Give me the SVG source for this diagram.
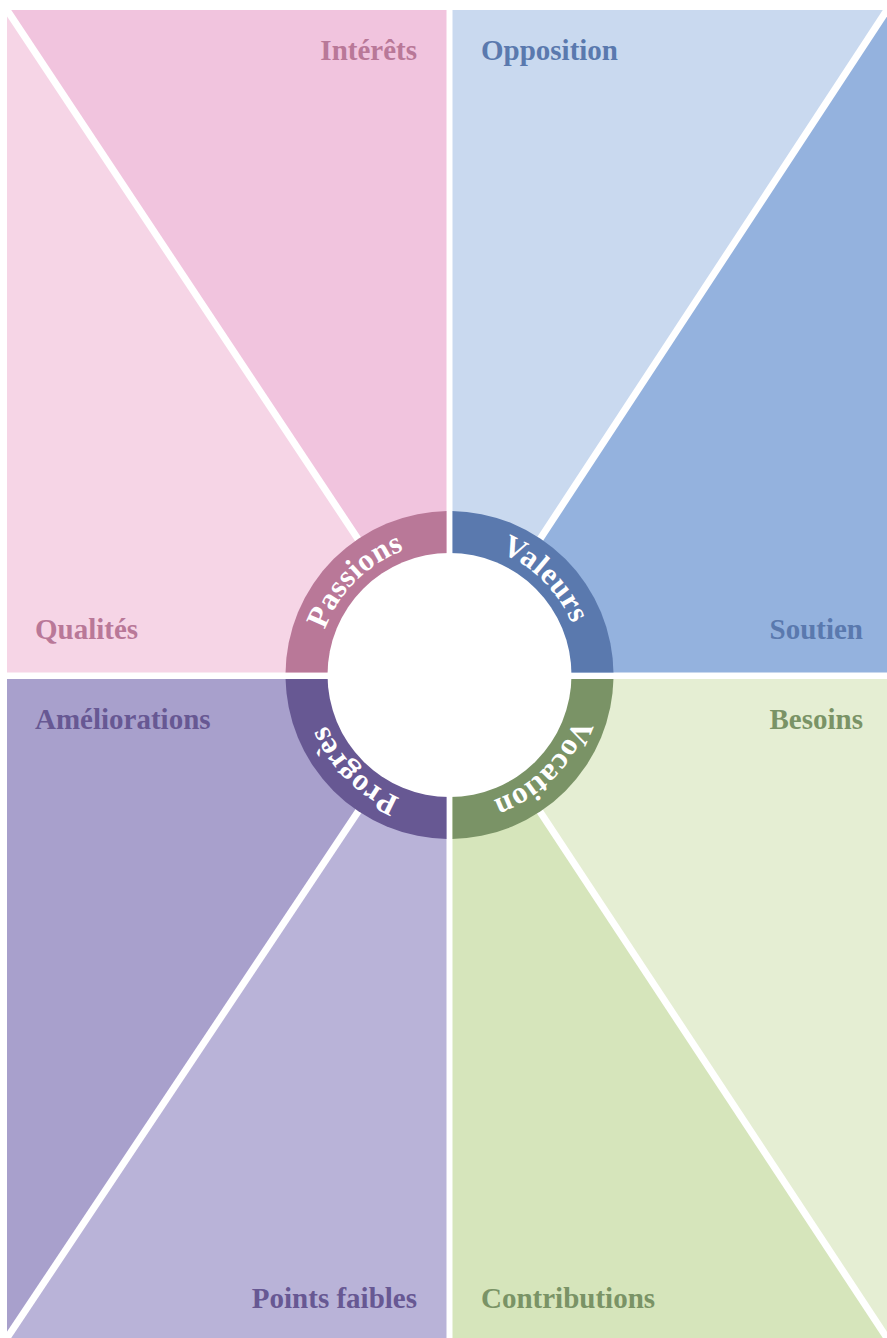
<svg xmlns="http://www.w3.org/2000/svg" xmlns:xlink="http://www.w3.org/1999/xlink" width="887" height="1338" viewBox="0 0 887 1338">
  <style>
    .label { font-family: "Liberation Serif", "DejaVu Serif", serif; font-weight: bold; font-size: 29px; }
    .ring-label { font-family: "Liberation Serif", "DejaVu Serif", serif; font-weight: bold; font-size: 31px; fill: #ffffff; letter-spacing: 0.5px; }
    .divider { stroke: #ffffff; stroke-width: 7; fill: none; }
    .pink { fill: #b97898; }
    .blue { fill: #5a79ae; }
    .violet { fill: #675893; }
    .green { fill: #7a9366; }
  </style>
  <defs>
    <!-- clockwise circle through the middle of the ring, starting at the left -->
    <path id="ringPath" d="M 317,675 A 132.5 132.5 0 1 1 582,675 A 132.5 132.5 0 1 1 317,675"/>
    <clipPath id="clipTL"><rect x="0" y="0" width="446.5" height="672.5"/></clipPath>
    <clipPath id="clipTR"><rect x="452.5" y="0" width="434.5" height="672.5"/></clipPath>
    <clipPath id="clipBL"><rect x="0" y="679" width="446.5" height="659"/></clipPath>
    <clipPath id="clipBR"><rect x="452.5" y="679" width="434.5" height="659"/></clipPath>
  </defs>

  <rect width="887" height="1338" fill="#ffffff"/>

  <!-- top-left quadrant -->
  <g id="quadrant-passions">
    <polygon points="7,10 446.5,10 446.5,672.5" fill="#f1c4de"/>
    <polygon points="7,10 7,672.5 446.5,672.5" fill="#f6d5e6"/>
    <text class="label pink" x="417" y="60" text-anchor="end">Intérêts</text>
    <text class="label pink" x="35" y="639">Qualités</text>
  </g>

  <!-- top-right quadrant -->
  <g id="quadrant-valeurs">
    <polygon points="452.5,10 887,10 452.5,672.5" fill="#c9d9ef"/>
    <polygon points="887,10 887,672.5 452.5,672.5" fill="#94b2de"/>
    <text class="label blue" x="481" y="60">Opposition</text>
    <text class="label blue" x="863" y="639" text-anchor="end">Soutien</text>
  </g>

  <!-- bottom-left quadrant -->
  <g id="quadrant-progres">
    <polygon points="7,679 446.5,679 7,1338" fill="#a8a0cc"/>
    <polygon points="446.5,679 446.5,1338 7,1338" fill="#b9b3d8"/>
    <text class="label violet" x="35" y="729">Améliorations</text>
    <text class="label violet" x="417" y="1308" text-anchor="end">Points faibles</text>
  </g>

  <!-- bottom-right quadrant -->
  <g id="quadrant-vocation">
    <polygon points="452.5,679 887,679 887,1338" fill="#e5eed3"/>
    <polygon points="452.5,679 887,1338 452.5,1338" fill="#d6e5bb"/>
    <text class="label green" x="863" y="729" text-anchor="end">Besoins</text>
    <text class="label green" x="481" y="1308">Contributions</text>
  </g>

  <!-- diagonal separators -->
  <g id="connectors">
    <line class="divider" x1="7" y1="10" x2="446.5" y2="672.5"/>
    <line class="divider" x1="887" y1="10" x2="452.5" y2="672.5"/>
    <line class="divider" x1="446.5" y1="679" x2="7" y2="1338"/>
    <line class="divider" x1="452.5" y1="679" x2="887" y2="1338"/>
  </g>

  <!-- central ring -->
  <g id="ring">
    <circle cx="449.5" cy="675" r="164" class="pink" clip-path="url(#clipTL)"/>
    <circle cx="449.5" cy="675" r="164" class="blue" clip-path="url(#clipTR)"/>
    <circle cx="449.5" cy="675" r="164" class="violet" clip-path="url(#clipBL)"/>
    <circle cx="449.5" cy="675" r="164" class="green" clip-path="url(#clipBR)"/>
    <circle cx="449.5" cy="675" r="122" fill="#ffffff"/>
  </g>

  <g id="ring-labels">
    <text class="ring-label" text-anchor="middle"><textPath xlink:href="#ringPath" href="#ringPath" startOffset="12.5%">Passions</textPath></text>
    <text class="ring-label" text-anchor="middle"><textPath xlink:href="#ringPath" href="#ringPath" startOffset="37.5%">Valeurs</textPath></text>
    <text class="ring-label" text-anchor="middle"><textPath xlink:href="#ringPath" href="#ringPath" startOffset="62.5%">Vocation</textPath></text>
    <text class="ring-label" text-anchor="middle"><textPath xlink:href="#ringPath" href="#ringPath" startOffset="87.5%">Progrès</textPath></text>
  </g>
</svg>
